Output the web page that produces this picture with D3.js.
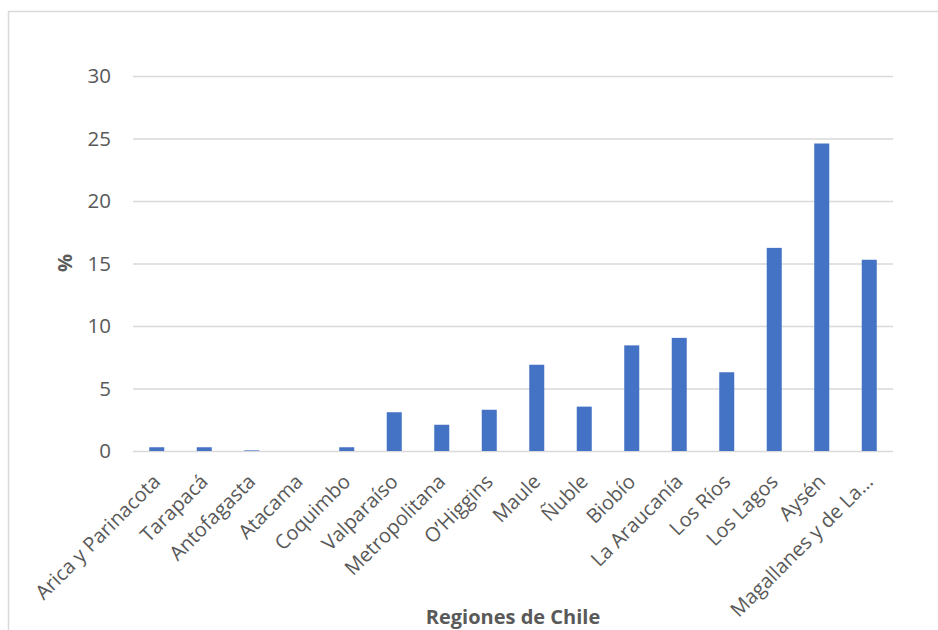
<!DOCTYPE html>
<html><head><meta charset="utf-8">
<script src="https://cdn.jsdelivr.net/npm/d3@7"></script>
<style>body{margin:0;background:#fff}svg{display:block}</style>
</head><body>
<svg id="c" width="938" height="630"></svg>
<script>
const categories = ["Arica y Parinacota","Tarapacá","Antofagasta","Atacama","Coquimbo","Valparaíso","Metropolitana","O’Higgins","Maule","Ñuble","Biobío","La Araucanía","Los Ríos","Los Lagos","Aysén","Magallanes y de La…"];
const values = [0.3,0.3,0.05,0,0.3,3.1,2.1,3.3,6.9,3.55,8.45,9.05,6.3,16.25,24.6,15.3];
const yTicks = [0,5,10,15,20,25,30];

const svg = d3.select("#c");
const font = "'Open Sans', sans-serif";
const txt = "#595959";
const m = {left:133, right:893, top:76, bottom:451};

svg.append("rect").attr("x",8.5).attr("y",11.5).attr("width",960).attr("height",660)
  .attr("fill","none").attr("stroke","#d9d9d9").attr("stroke-width",1.5);

const x = d3.scaleBand().domain(categories).range([m.left,m.right]).paddingInner(0.684).paddingOuter(0.342);
const y = d3.scaleLinear().domain([0,30]).range([m.bottom,m.top]);

const ya = svg.append("g").attr("transform",`translate(${m.left},0)`)
  .call(d3.axisLeft(y).tickValues(yTicks).tickSize(-(m.right-m.left)).tickPadding(22));
ya.select(".domain").remove();
ya.selectAll(".tick line").attr("stroke","#d9d9d9").attr("stroke-width",1.5);
ya.selectAll(".tick text").attr("fill",txt).style("font-family",font).style("font-size","20.5px");

svg.append("g").selectAll("rect").data(values).join("rect")
  .attr("x",(d,i)=>x(categories[i])).attr("width",x.bandwidth())
  .attr("y",d=>y(d)).attr("height",d=>y(0)-y(d)).attr("fill","#4472c4");

const xa = svg.append("g").attr("transform",`translate(0,${m.bottom})`)
  .call(d3.axisBottom(x).tickSize(0).tickPadding(0));
xa.select(".domain").remove();
xa.selectAll(".tick text").attr("fill",txt).style("font-family",font).style("font-size","20px")
  .attr("text-anchor","end").attr("dy","0.7em")
  .attr("transform","translate(-5,22) rotate(-45)");

svg.append("text").attr("x",513).attr("y",624).attr("text-anchor","middle")
  .attr("fill",txt).style("font-family",font).style("font-size","20px").style("font-weight","bold")
  .text("Regiones de Chile");
svg.append("text").attr("transform","translate(72,263) rotate(-90)").attr("text-anchor","middle")
  .attr("fill",txt).style("font-family",font).style("font-size","20px").style("font-weight","bold")
  .text("%");
</script>
</body></html>
